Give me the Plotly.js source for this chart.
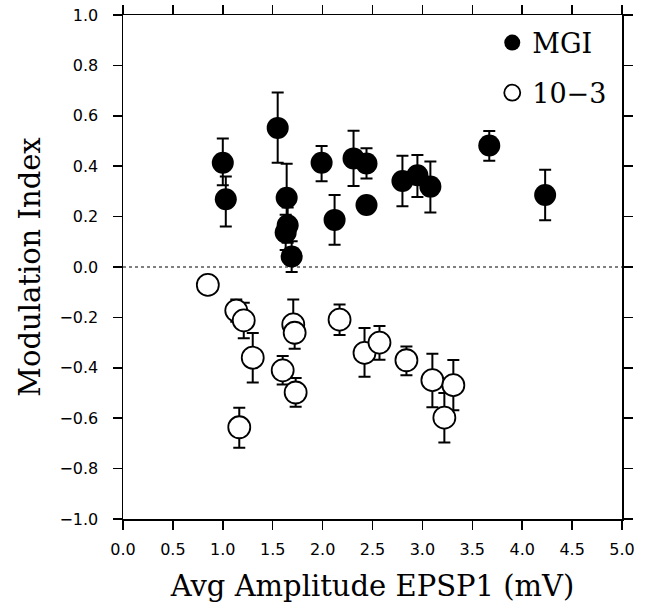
<!DOCTYPE html>
<html><head><meta charset="utf-8">
<script src="https://cdn.plot.ly/plotly-3.0.1.min.js"></script>
<style>html,body{margin:0;padding:0;background:#fff}</style>
</head><body><div id="chart" style="width:650px;height:613px"></div>
<script>
// MGI series (filled circles)
const mgiX = [1.00, 1.03, 1.55, 1.64, 1.65, 1.63, 1.69, 1.99, 2.12, 2.31, 2.44, 2.44, 2.80, 2.95, 3.08, 3.67, 4.23];
const mgiY = [0.414, 0.269, 0.552, 0.275, 0.166, 0.137, 0.042, 0.414, 0.187, 0.431, 0.411, 0.246, 0.341, 0.364, 0.319, 0.482, 0.286];
const mgiErrPlus  = [0.096, 0.09, 0.14, 0.135, 0.07, 0.07, 0.06, 0.066, 0.099, 0.11, 0.06, 0.0, 0.10, 0.08, 0.10, 0.058, 0.10];
const mgiErrMinus = [0.09, 0.108, 0.138, 0.10, 0.07, 0.07, 0.062, 0.074, 0.099, 0.11, 0.06, 0.0, 0.10, 0.086, 0.103, 0.06, 0.10];
// 10-3 series (open circles)
const t103X = [0.85, 1.135, 1.21, 1.30, 1.165, 1.60, 1.706, 1.72, 1.73, 2.17, 2.42, 2.57, 2.84, 3.10, 3.31, 3.22];
const t103Y = [-0.071, -0.173, -0.212, -0.36, -0.636, -0.41, -0.228, -0.261, -0.498, -0.209, -0.341, -0.30, -0.37, -0.449, -0.469, -0.598];
const t103ErrPlus  = [0.0, 0.044, 0.07, 0.098, 0.077, 0.057, 0.099, 0.06, 0.058, 0.06, 0.099, 0.066, 0.055, 0.105, 0.10, 0.098];
const t103ErrMinus = [0.0, 0.044, 0.071, 0.098, 0.081, 0.056, 0.06, 0.063, 0.057, 0.061, 0.095, 0.068, 0.06, 0.108, 0.099, 0.098];
const xTickVals = [0, 0.5, 1, 1.5, 2, 2.5, 3, 3.5, 4, 4.5, 5];
const xTickText = ['0.0','0.5','1.0','1.5','2.0','2.5','3.0','3.5','4.0','4.5','5.0'];
const yTickVals = [-1, -0.8, -0.6, -0.4, -0.2, 0, 0.2, 0.4, 0.6, 0.8, 1];
const yTickText = ['\u22121.0','\u22120.8','\u22120.6','\u22120.4','\u22120.2','0.0','0.2','0.4','0.6','0.8','1.0'];

const serif = 'DejaVu Serif, Liberation Serif, serif';
const sans = 'DejaVu Sans, Liberation Sans, sans-serif';

const traces = [
  {
    x: mgiX, y: mgiY, type: 'scatter', mode: 'markers', name: 'MGI', legendgroup: 'a',
    marker: {symbol: 'circle', size: 22, color: '#000'},
    error_y: {type: 'data', array: mgiErrPlus, arrayminus: mgiErrMinus, symmetric: false, color: '#000', thickness: 2, width: 6}
  },
  {
    x: t103X, y: t103Y, type: 'scatter', mode: 'markers', name: '10\u22123', legendgroup: 'b',
    marker: {symbol: 'circle', size: 22, color: '#fff', line: {color: '#000', width: 1.8}},
    error_y: {type: 'data', array: t103ErrPlus, arrayminus: t103ErrMinus, symmetric: false, color: '#000', thickness: 2, width: 6}
  }
];

const axLine = {showline: true, linecolor: '#000', linewidth: 1.5, showgrid: false, zeroline: false};

const layout = {
  width: 650, height: 613,
  margin: {l: 123, r: 28, t: 15, b: 94},
  paper_bgcolor: '#fff', plot_bgcolor: '#fff',
  showlegend: true,
  legend: {x: 0.74, y: 0.993, xanchor: 'left', yanchor: 'top', bgcolor: 'rgba(0,0,0,0)',
           font: {family: serif, size: 27, color: '#000'}, itemsizing: 'trace', tracegroupgap: 12},
  xaxis: Object.assign({
    range: [0, 5], tickvals: xTickVals, ticktext: xTickText,
    ticks: 'outside', ticklen: 9, tickwidth: 1.5, tickcolor: '#000', mirror: 'ticks',
    tickfont: {family: sans, size: 16, color: '#000'}, ticklabelstandoff: 6,
    title: {text: 'Avg Amplitude EPSP1 (mV)', font: {family: serif, size: 29, color: '#000'}, standoff: 18}
  }, axLine),
  yaxis: Object.assign({
    range: [-1, 1], tickvals: yTickVals, ticktext: yTickText,
    ticks: 'outside', ticklen: 9, tickwidth: 1.5, tickcolor: '#000', mirror: 'ticks',
    tickfont: {family: sans, size: 16, color: '#000'}, ticklabelstandoff: 11,
    title: {text: 'Modulation Index', font: {family: serif, size: 29, color: '#000'}, standoff: 10}
  }, axLine),
  shapes: [
    {type: 'line', xref: 'paper', x0: 0, x1: 1, yref: 'y', y0: 0, y1: 0,
     line: {color: '#000', width: 1, dash: 'dot'}, layer: 'below'}
  ]
};

Plotly.newPlot('chart', traces, layout, {displayModeBar: false, staticPlot: true});
</script>
</body></html>
